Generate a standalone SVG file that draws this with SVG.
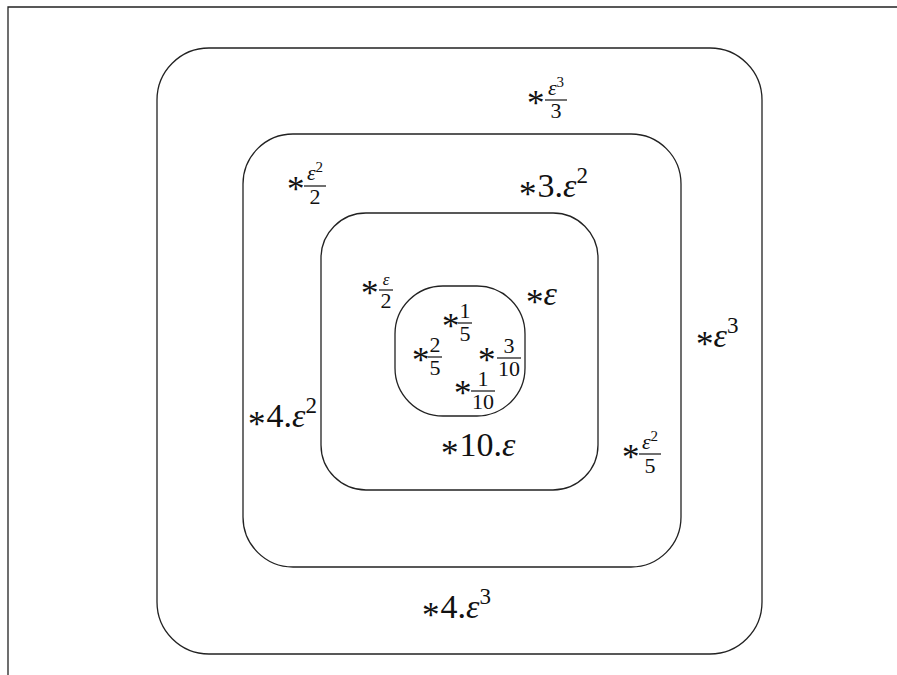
<svg xmlns="http://www.w3.org/2000/svg" width="897" height="675" viewBox="0 0 897 675">
<style>
.b{fill:none;stroke:#222;stroke-width:1.3}
text{font-family:"Liberation Serif","DejaVu Serif",serif;fill:#111}
.m{font-size:34px}
.s{font-size:22px}
.p{font-size:23px}
.q{font-size:15px}
.e{font-style:italic}
.a{font-size:35px}
.bar{stroke:#111;stroke-width:1.2}
</style>
<rect width="897" height="675" fill="#fff"/>
<path class="b" d="M8 675V7H897"/>
<g id="region-outer"><rect class="b" x="157" y="48" width="605" height="606" rx="52"/></g>
<g id="region-second"><rect class="b" x="243" y="134" width="438" height="433" rx="50"/></g>
<g id="region-third"><rect class="b" x="321" y="213" width="277" height="277" rx="45"/></g>
<g id="region-inner"><rect class="b" x="395" y="286" width="130" height="130" rx="48"/></g>
<g id="connectors"></g>
<g id="labels">
<g id="l1"><text class="a" x="527" y="115">*</text><text class="s" x="556" y="95" text-anchor="middle"><tspan class="e">ε</tspan><tspan class="q" dy="-8">3</tspan></text><line class="bar" x1="545" y1="100" x2="567" y2="100"/><text class="s" x="556" y="118" text-anchor="middle">3</text></g>
<g id="l2"><text class="a" x="287" y="201">*</text><text class="s" x="315" y="180" text-anchor="middle"><tspan class="e">ε</tspan><tspan class="q" dy="-8">2</tspan></text><line class="bar" x1="304" y1="186" x2="326" y2="186"/><text class="s" x="315" y="204" text-anchor="middle">2</text></g>
<g id="l3"><text x="519" y="197"><tspan class="a" dy="9">*</tspan><tspan class="m" dy="-9" dx="1">3.</tspan><tspan class="m e">ε</tspan><tspan class="p" dy="-14">2</tspan></text></g>
<g id="l4"><text class="a" x="361" y="305">*</text><text x="386" y="285" text-anchor="middle" font-size="17" class="e">ε</text><line class="bar" x1="379" y1="290" x2="393" y2="290"/><text class="s" x="386" y="308" text-anchor="middle">2</text></g>
<g id="l5"><text x="526" y="305"><tspan class="a" dy="9">*</tspan><tspan class="m e" dy="-9">ε</tspan></text></g>
<g id="l6"><text class="a" x="442" y="338">*</text><text class="s" x="465" y="318" text-anchor="middle">1</text><line class="bar" x1="458" y1="323" x2="472" y2="323"/><text class="s" x="465" y="341" text-anchor="middle">5</text></g>
<g id="l7"><text class="a" x="412" y="372">*</text><text class="s" x="435" y="352" text-anchor="middle">2</text><line class="bar" x1="428" y1="357" x2="442" y2="357"/><text class="s" x="435" y="375" text-anchor="middle">5</text></g>
<g id="l8"><text class="a" x="478" y="372">*</text><text class="s" x="509" y="353" text-anchor="middle">3</text><line class="bar" x1="497" y1="358" x2="521" y2="358"/><text class="s" x="509" y="376" text-anchor="middle">10</text></g>
<g id="l9"><text class="a" x="454" y="405">*</text><text class="s" x="483" y="386" text-anchor="middle">1</text><line class="bar" x1="471" y1="391" x2="495" y2="391"/><text class="s" x="483" y="409" text-anchor="middle">10</text></g>
<g id="l10"><text x="248" y="427"><tspan class="a" dy="9">*</tspan><tspan class="m" dy="-9" dx="1">4.</tspan><tspan class="m e">ε</tspan><tspan class="p" dy="-14">2</tspan></text></g>
<g id="l11"><text x="441" y="456"><tspan class="a" dy="9">*</tspan><tspan class="m" dy="-9" dx="1">10.</tspan><tspan class="m e">ε</tspan></text></g>
<g id="l12"><text class="a" x="622" y="469">*</text><text class="s" x="650" y="449" text-anchor="middle"><tspan class="e">ε</tspan><tspan class="q" dy="-8">2</tspan></text><line class="bar" x1="639" y1="454" x2="661" y2="454"/><text class="s" x="650" y="473" text-anchor="middle">5</text></g>
<g id="l13"><text x="696" y="347"><tspan class="a" dy="9">*</tspan><tspan class="m e" dy="-9">ε</tspan><tspan class="p" dy="-14">3</tspan></text></g>
<g id="l14"><text x="422" y="618"><tspan class="a" dy="9">*</tspan><tspan class="m" dy="-9" dx="1">4.</tspan><tspan class="m e">ε</tspan><tspan class="p" dy="-14">3</tspan></text></g>
</g>
</svg>
